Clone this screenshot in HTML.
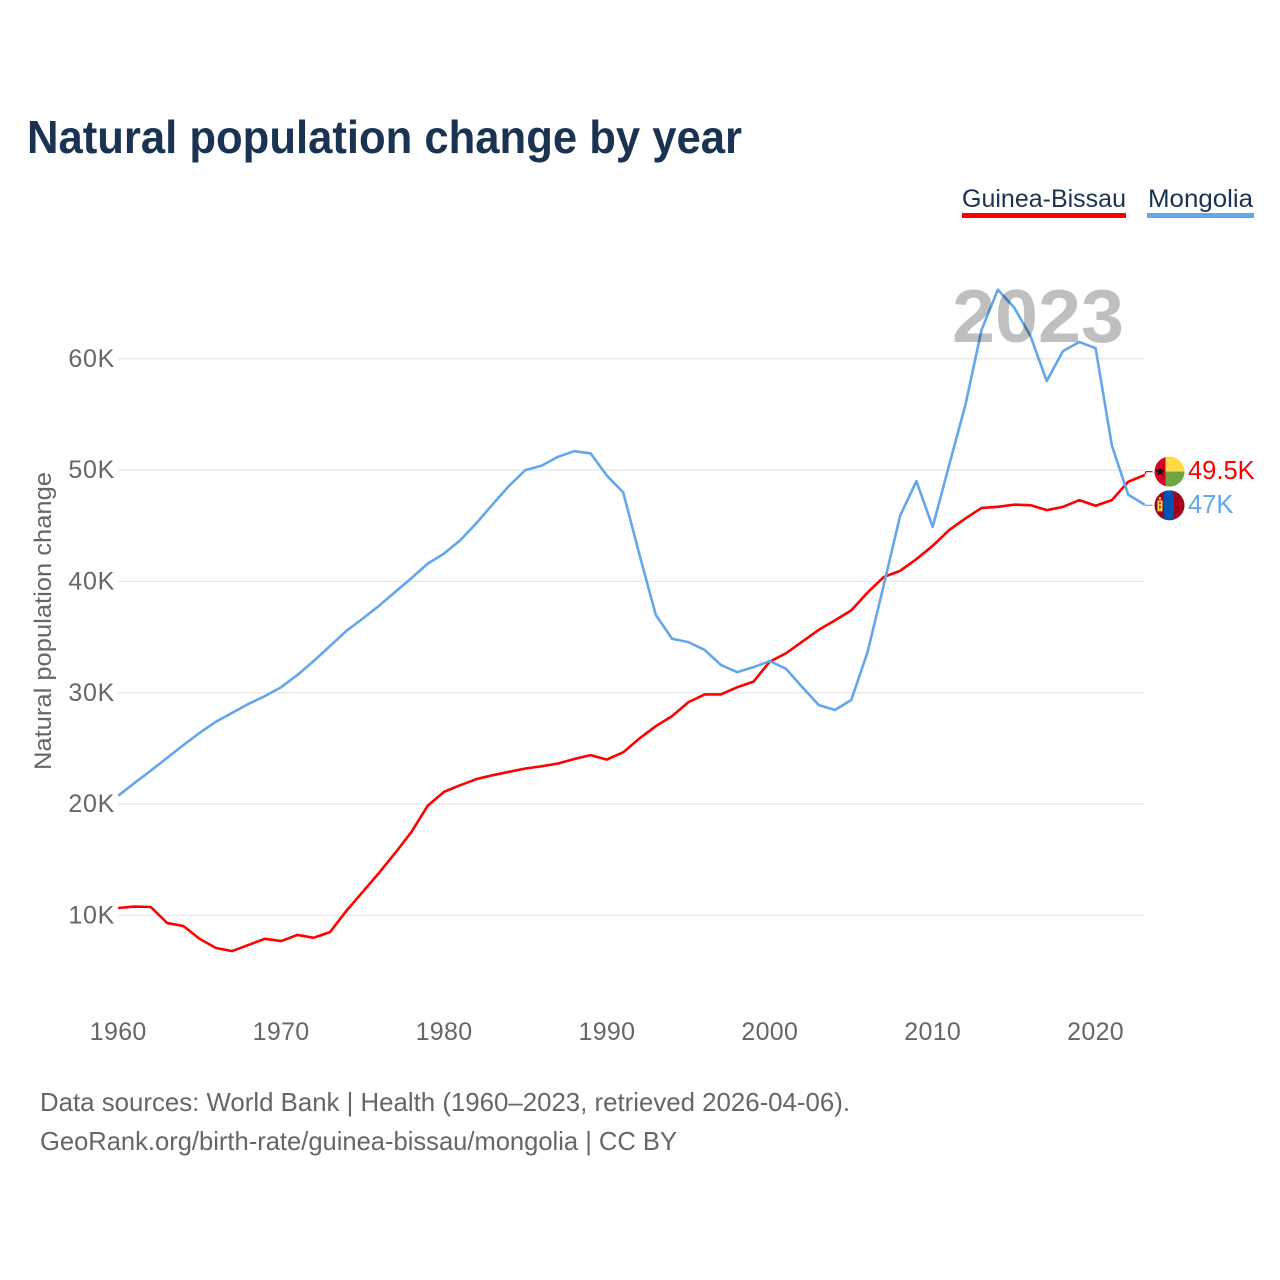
<!DOCTYPE html>
<html lang="en">
<head>
<meta charset="utf-8">
<title>Natural population change by year</title>
<style>
html,body{margin:0;padding:0;background:#fff;}
svg{display:block;font-family:"Liberation Sans",sans-serif;}
</style>
</head>
<body>
<svg id="chart" xmlns="http://www.w3.org/2000/svg" width="1280" height="1280" viewBox="0 0 1280 1280">
  <rect width="1280" height="1280" fill="#fff"/>
  <text x="27" y="153" font-size="46" font-weight="700" fill="#1a3353" textLength="715" lengthAdjust="spacingAndGlyphs">Natural population change by year</text>

  <g>
    <g>
      <text x="962" y="207" font-size="25" fill="#1a3353" textLength="164" lengthAdjust="spacingAndGlyphs">Guinea-Bissau</text>
      <rect x="962" y="213" width="164" height="5" fill="#ff0000"/>
    </g>
    <g>
      <text x="1148" y="207" font-size="25" fill="#1a3353" textLength="105" lengthAdjust="spacingAndGlyphs">Mongolia</text>
      <rect x="1147" y="213" width="107" height="5" fill="#63a7ea"/>
    </g>
  </g>

  <g id="grid"></g>
  <g id="y-ticks"></g>
  <g id="x-ticks"></g>
  <text transform="translate(51,621) rotate(-90)" text-anchor="middle" font-size="24" fill="#666" textLength="298" lengthAdjust="spacingAndGlyphs">Natural population change</text>

  <g id="series"></g>

  <text x="952" y="342" font-size="75" font-weight="700" fill="#000" fill-opacity="0.25" textLength="172" lengthAdjust="spacingAndGlyphs">2023</text>

  <g id="end-markers">
    <defs>
      <clipPath id="clip-gw"><circle cx="0" cy="0" r="15"/></clipPath>
      <clipPath id="clip-mn"><circle cx="0" cy="0" r="15"/></clipPath>
    </defs>
    <g id="flag-gw">
      <g clip-path="url(#clip-gw)">
        <rect x="-15" y="-15" width="30" height="30" fill="#ffda44"/>
        <rect x="-4" y="0" width="19" height="15" fill="#6da544"/>
        <rect x="-15" y="-15" width="11" height="30" fill="#d80027"/>
        <polygon points="-9.5,-5 -8.2,-1.5 -4.5,-1.5 -7.5,0.8 -6.4,4.4 -9.5,2.2 -12.6,4.4 -11.5,0.8 -14.5,-1.5 -10.8,-1.5" fill="#111"/>
      </g>
    </g>
    <g id="flag-mn">
      <g clip-path="url(#clip-mn)">
        <rect x="-15" y="-15" width="30" height="30" fill="#a2001d"/>
        <rect x="-5.5" y="-15" width="10" height="30" fill="#0052b4"/>
        <rect x="-12" y="-5" width="1.6" height="11" fill="#ffda44"/>
        <rect x="-8.6" y="-5" width="1.6" height="11" fill="#ffda44"/>
        <rect x="-10.2" y="-5" width="1.6" height="2" fill="#ffda44"/>
        <rect x="-10.2" y="-1.5" width="1.6" height="2.5" fill="#ffda44"/>
        <rect x="-10.2" y="2.5" width="1.6" height="3.5" fill="#ffda44"/>
        <circle cx="-9.5" cy="-7" r="1.2" fill="#ffda44"/>
      </g>
    </g>
  </g>

  <text x="40" y="1111" font-size="26" fill="#666" textLength="810" lengthAdjust="spacingAndGlyphs">Data sources: World Bank | Health (1960–2023, retrieved 2026-04-06).</text>
  <text x="40" y="1150" font-size="26" fill="#666" textLength="637" lengthAdjust="spacingAndGlyphs">GeoRank.org/birth-rate/guinea-bissau/mongolia | CC BY</text>
</svg>

<script>
const years = [1960,1961,1962,1963,1964,1965,1966,1967,1968,1969,1970,1971,1972,1973,1974,1975,1976,1977,1978,1979,1980,1981,1982,1983,1984,1985,1986,1987,1988,1989,1990,1991,1992,1993,1994,1995,1996,1997,1998,1999,2000,2001,2002,2003,2004,2005,2006,2007,2008,2009,2010,2011,2012,2013,2014,2015,2016,2017,2018,2019,2020,2021,2022,2023];
const guineaBissau = [10.67,10.8,10.76,9.33,9.05,7.9,7.08,6.8,7.35,7.9,7.7,8.25,8.0,8.5,10.4,12.1,13.8,15.6,17.5,19.85,21.1,21.7,22.25,22.6,22.9,23.2,23.4,23.65,24.05,24.4,24.0,24.65,25.9,27.0,27.9,29.15,29.85,29.85,30.5,31.0,32.8,33.55,34.6,35.65,36.5,37.4,39.0,40.4,40.95,42.0,43.2,44.6,45.65,46.6,46.7,46.9,46.85,46.4,46.7,47.3,46.8,47.3,48.95,49.55];
const mongolia = [20.75,21.9,23.0,24.15,25.3,26.4,27.4,28.2,29.0,29.7,30.5,31.6,32.85,34.2,35.55,36.65,37.8,39.05,40.3,41.6,42.5,43.7,45.25,46.95,48.6,50.0,50.4,51.2,51.7,51.5,49.5,48.0,42.4,37.0,34.85,34.55,33.85,32.5,31.85,32.3,32.85,32.15,30.5,28.9,28.45,29.35,33.65,39.7,45.9,49.0,44.9,50.4,55.8,62.6,66.2,64.6,62.05,58.0,60.7,61.5,60.95,52.2,47.8,46.9];
const yTickValues = [10,20,30,40,50,60];
const yTickLabels = ["10K","20K","30K","40K","50K","60K"];
const xTickValues = [1960,1970,1980,1990,2000,2010,2020];
const xTickLabels = ["1960","1970","1980","1990","2000","2010","2020"];
const endLabels = ["49.5K","47K"];

const NS = "http://www.w3.org/2000/svg";
const xScale = function (year) { return 118.2 + (year - 1960) * 16.29; };
const yScale = function (value) { return 1026.8 - value * 11.134; };

function make(tag, parent, attrs, text) {
  const el = document.createElementNS(NS, tag);
  Object.keys(attrs).forEach(function (k) { el.setAttribute(k, attrs[k]); });
  if (text !== undefined) el.textContent = text;
  parent.appendChild(el);
  return el;
}

const gridGroup = document.getElementById("grid");
const yTickGroup = document.getElementById("y-ticks");
yTickValues.forEach(function (v, i) {
  const line = make("line", gridGroup, { x1: 118, x2: 1144.5, y1: yScale(v), y2: yScale(v), stroke: "#e6e6e6", "stroke-width": 1.2 });
  
  
  const label = make("text", yTickGroup, { x: 115, y: yScale(v) + 8, "text-anchor": "end", "font-size": 25, "letter-spacing": 0.7, fill: "#666" }, yTickLabels[i]);
  
  
});

const xTickGroup = document.getElementById("x-ticks");
xTickValues.forEach(function (v, i) {
  const label = make("text", xTickGroup, { x: xScale(v), y: 1040, "text-anchor": "middle", "font-size": 25, "letter-spacing": 0.3, fill: "#666" }, xTickLabels[i]);
  
  
});

function linePoints(values) {
  return values.map(function (v, i) { return xScale(years[i]).toFixed(2) + "," + yScale(v).toFixed(2); }).join(" ");
}

const seriesGroup = document.getElementById("series");
const markerGroup = document.getElementById("end-markers");

function drawSeries(values, color, lastIndexLabel, flagId, flagOffset, seriesName) {
  const last = values[values.length - 1];
  const endX = xScale(years[years.length - 1]);
  const endY = yScale(last);
  const flagY = endY + flagOffset;
  const line = make("polyline", seriesGroup, { points: linePoints(values), fill: "none", stroke: color, "stroke-width": 2.6, "stroke-linejoin": "round" });
  
  
  const connector = make("polyline", seriesGroup, { points: endX + "," + endY + " " + (endX + 1.5) + "," + flagY + " " + (endX + 8) + "," + flagY, fill: "none", stroke: color, "stroke-width": 1.2 });
  
  
  document.getElementById(flagId).setAttribute("transform", "translate(1169.5," + flagY + ")");
  const label = make("text", markerGroup, { x: 1188, y: flagY + 7.5, "font-size": 25.5, fill: color }, endLabels[lastIndexLabel]);
  
  
}

drawSeries(guineaBissau, "#ff0000", 0, "flag-gw", -3.5, "guinea-bissau");
drawSeries(mongolia, "#63a7ea", 1, "flag-mn", 0.7, "mongolia");
</script>
</body>
</html>
